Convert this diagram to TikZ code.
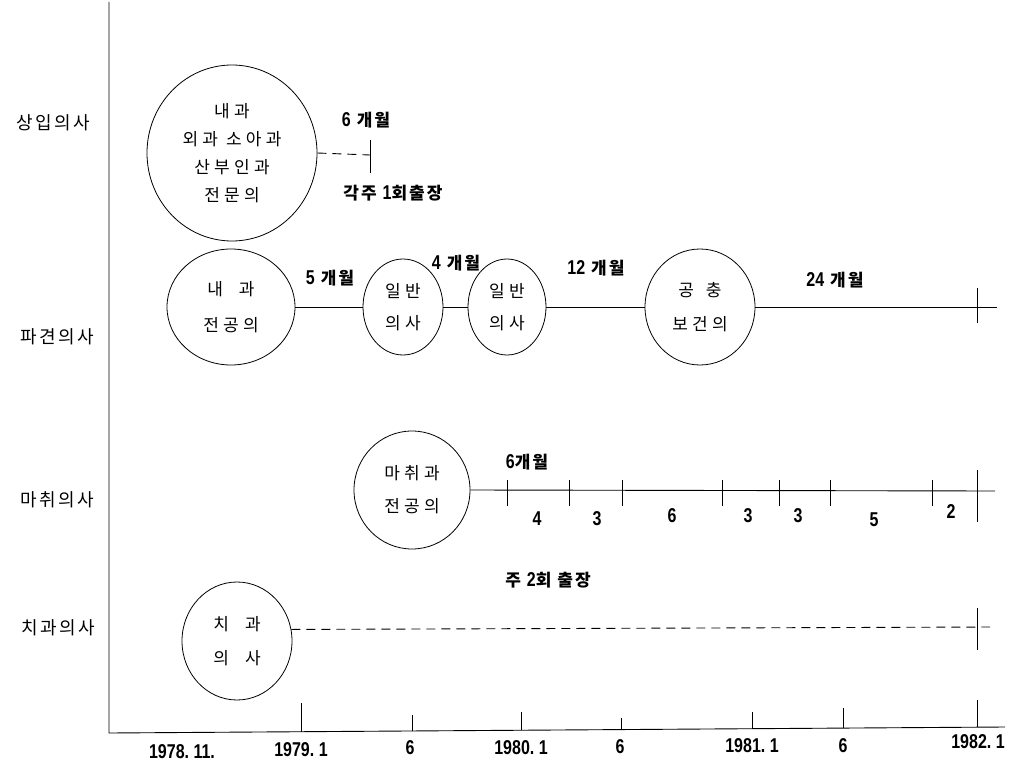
\documentclass[tikz,border=0pt]{standalone}
\usepackage{fontspec}
\usetikzlibrary{shapes.geometric}
\setmainfont{Noto Sans CJK KR}
\newfontfamily\krlabel[LetterSpace=14]{Noto Sans CJK KR}
\newfontfamily\krin[LetterSpace=25]{Noto Sans CJK KR}
\newfontfamily\krmon[LetterSpace=12]{Noto Sans CJK KR}
\newfontfamily\numf[FakeStretch=0.8]{Liberation Sans}
\newcommand\monthlab[1]{{\numf\bfseries\fontsize{20}{22}\selectfont #1}\hspace{6pt}{\krmon\bfseries 개월}}
\begin{document}
\begin{tikzpicture}[x=1pt,y=-1pt,
  ln/.style={line width=0.9pt},
  dln/.style={line width=0.9pt, dash pattern=on 9pt off 6pt},
  tk/.style={line width=0.8pt},
  bub/.style={draw, ellipse, line width=0.8pt, inner sep=0pt, align=center},
  rowlab/.style={font=\krlabel\fontsize{18}{20}\selectfont},
  intext/.style={font=\krin\fontsize{17}{28}\selectfont},
  mlab/.style={font=\fontsize{17}{19}\selectfont},
  numlab/.style={font=\numf\bfseries\fontsize{20}{22}\selectfont}]
\useasboundingbox (0,0) rectangle (1009,765);

% axes
\coordinate (ytop) at (109,2);
\coordinate (orig) at (109,733);
\coordinate (xend) at (1005,727);
\draw[ln] (ytop) -- (orig) -- (xend);

% row labels
\node[rowlab] (r1) at (53,123) {상입의사};
\node[rowlab] (r2) at (57,337) {파견의사};
\node[rowlab] (r3) at (57,500) {마취의사};
\node[rowlab] (r4) at (58,628) {치과의사};

% row 1
\node[bub, minimum width=170pt, minimum height=176pt, intext] (c1) at (232,153)
  {내과\\외과\hspace{8pt}소아과\\산부인과\\전문의};
\coordinate (t1) at (370,155);
\draw[dln] (c1.east) -- (t1);
\draw[tk] (370,140) -- (370,173);
\node[mlab] (m1) at (366,120) {\monthlab{6}};
\node[mlab, font=\krmon\bfseries\fontsize{17}{19}\selectfont] (m1b) at (393,193) {각주 {\numf\fontsize{20}{22}\selectfont 1}회출장};

% row 2
\node[bub, minimum width=128pt, minimum height=116pt, intext, font=\krin\fontsize{17}{36}\selectfont] (e21) at (231,307)
  {내\hspace{16pt}과\\전공의};
\node[bub, minimum width=80pt, minimum height=96pt, intext, font=\krin\fontsize{17}{32}\selectfont] (e22) at (403,307)
  {일반\\의사};
\node[bub, minimum width=78pt, minimum height=96pt, intext, font=\krin\fontsize{17}{32}\selectfont] (e23) at (507,307)
  {일반\\의사};
\node[bub, minimum width=110pt, minimum height=116pt, intext, font=\krin\fontsize{17}{34}\selectfont] (e24) at (700,307)
  {공\hspace{12pt}충\\보건의};
\coordinate (end2) at (997,307);
\draw[ln] (e21.east) -- (e22.west);
\draw[ln] (e22.east) -- (e23.west);
\draw[ln] (e23.east) -- (e24.west);
\draw[ln] (e24.east) -- (end2);
\draw[tk] (977,288) -- (977,323);
\node[mlab] (m21) at (330,278) {\monthlab{5}};
\node[mlab] (m22) at (456,263) {\monthlab{4}};
\node[mlab] (m23) at (596,268) {\monthlab{12}};
\node[mlab] (m24) at (835,280) {\monthlab{24}};

% row 3
\node[bub, minimum width=116pt, minimum height=118pt, intext, font=\krin\fontsize{17}{33}\selectfont] (c3) at (412,490)
  {마취과\\전공의};
\coordinate (end3) at (995,491);
\draw[ln] (c3.east) -- (end3);
\foreach \x in {507,569,622,722,779,830,932} \draw[tk] (\x,480) -- (\x,506);
\draw[tk] (977,470) -- (977,522);
\node[mlab] (m3) at (527,462) {{\numf\bfseries\fontsize{20}{22}\selectfont 6}{\krmon\bfseries 개월}};
\foreach \x/\y/\t in {537/519/4, 597/519/3, 672/516/6, 748/516/3, 798/516/3, 874/520/5, 951/512/2}
  \node[numlab] at (\x,\y) {\t};
\node[mlab, font=\krmon\bfseries\fontsize{17}{19}\selectfont] (m4) at (548,580) {주 {\numf\fontsize{20}{22}\selectfont 2}회 출장};

% row 4
\node[bub, minimum width=110pt, minimum height=118pt, intext, font=\krin\fontsize{17}{34}\selectfont] (c4) at (237,641)
  {치\hspace{16pt}과\\의\hspace{16pt}사};
\coordinate (end4) at (990,627);
\draw[dln] (c4.12) -- (end4);
\draw[tk] (977,608) -- (977,650);

% x-axis ticks and labels
\foreach \x/\t in {301/703, 412/715, 521/712, 621/718, 752/712, 843/708, 977/700}
  \draw[tk] (\x,\t) -- (\x,{733-(\x-109)*6/896});
\node[numlab] at (182,752) {1978.\ 11.};
\node[numlab] at (301,750) {1979.\ 1};
\node[numlab] at (410,748) {6};
\node[numlab] at (521,748) {1980.\ 1};
\node[numlab] at (620,747) {6};
\node[numlab] at (752,746) {1981.\ 1};
\node[numlab] at (843,746) {6};
\node[numlab] at (978,742) {1982.\ 1};
\end{tikzpicture}
\end{document}
